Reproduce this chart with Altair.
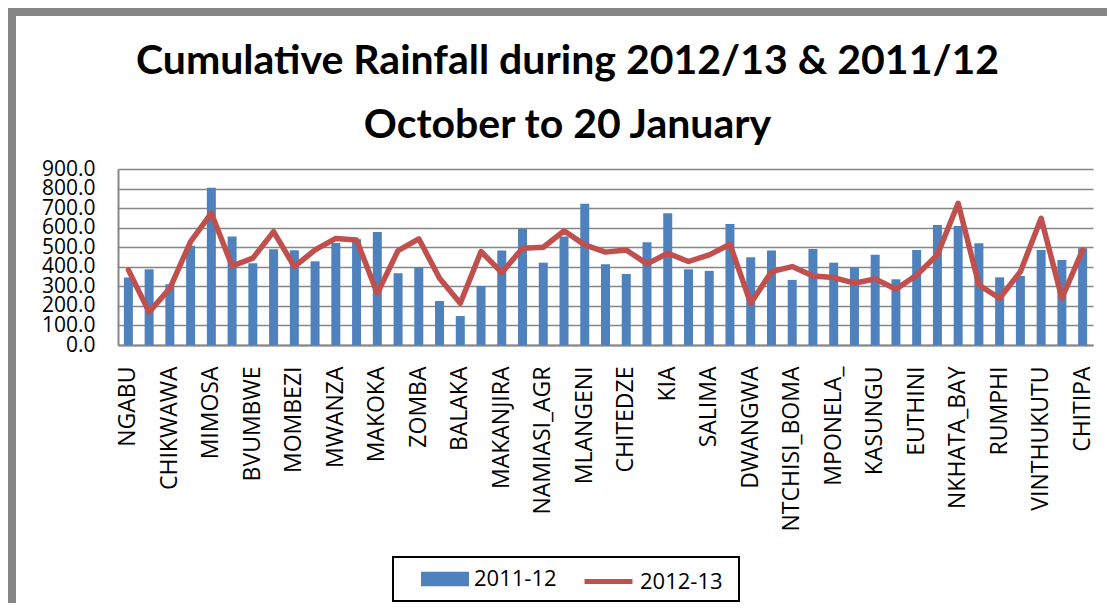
import altair as alt
import pandas as pd

stations = ["NGABU", "NSANJE", "CHIKWAWA", "THYOLO", "MIMOSA", "CHICHIRI", "BVUMBWE",
            "CHILESWA", "MOMBEZI", "NENO", "MWANZA", "CHINGALE", "MAKOKA", "CHANCO",
            "ZOMBA", "MANGOCHI", "BALAKA", "MONKEY_BAY", "MAKANJIRA", "NTCHEU",
            "NAMIASI_AGR", "DEDZA", "MLANGENI", "BUNDA", "CHITEDZE", "LILONGWE", "KIA",
            "NKHOTAKOTA", "SALIMA", "CHIPOKA", "DWANGWA", "NTCHISI", "NTCHISI_BOMA",
            "DOWA", "MPONELA_", "MCHINJI", "KASUNGU", "MZIMBA", "EUTHINI", "BOLERO",
            "NKHATA_BAY", "MZUZU", "RUMPHI", "KARONGA", "VINTHUKUTU", "MISUKU", "CHITIPA"]
labeled = stations[::2]

rain_2011_12 = [345, 387, 311, 507, 804, 555, 418, 490, 485, 428, 522, 541, 578, 367,
                398, 225, 148, 302, 483, 594, 421, 555, 722, 413, 363, 526, 674, 387,
                379, 619, 449, 483, 333, 491, 421, 396, 461, 336, 486, 613, 609, 520,
                346, 353, 486, 435, 495]
rain_2012_13 = [384, 168, 290, 529, 674, 404, 444, 580, 401, 486, 545, 537, 264, 483,
                543, 341, 213, 478, 370, 495, 500, 584, 512, 475, 486, 415, 469, 427,
                461, 515, 213, 375, 401, 353, 345, 316, 338, 285, 358, 461, 725, 307,
                239, 375, 648, 239, 486]
y_ticks = [0, 100, 200, 300, 400, 500, 600, 700, 800, 900]
series = ["2011-12", "2012-13"]
colors = ["#4F81BD", "#C0504D"]

df = pd.DataFrame({"station": stations, "a": rain_2011_12, "b": rain_2012_13,
                   "s1": series[0], "s2": series[1]})

FONT = "Open Sans"

x_axis = alt.Axis(values=labeled, labelAngle=-90, labelFontSize=23,
                  labelFont=FONT, labelColor="black", labelPadding=21,
                  ticks=False, domainColor="#868686", domainWidth=2,
                  grid=False, labelOverlap=False)
x_scale = alt.Scale(paddingInner=0.6, paddingOuter=0.3)
y_scale = alt.Scale(domain=[0, 900], nice=False)
y_axis = alt.Axis(values=y_ticks, format=".1f", labelFontSize=21,
                  labelFont=FONT, labelColor="black", ticks=False,
                  domainColor="#868686", domainWidth=2, gridColor="#868686",
                  gridWidth=1.5, labelPadding=23, labelOverlap=False,
                  labelBaseline="middle")

common_leg = dict(title=None, orient="none", direction="horizontal", padding=0,
                  labelFontSize=22, labelFont=FONT, labelColor="black",
                  symbolSize=2300, labelOffset=5)

bars = alt.Chart(df).mark_bar(size=9).encode(
    x=alt.X("station:N", sort=stations, title=None, scale=x_scale, axis=x_axis),
    y=alt.Y("a:Q", scale=y_scale, axis=y_axis, title=None),
    fill=alt.Fill("s1:N", scale=alt.Scale(domain=[series[0]], range=[colors[0]]),
                  legend=alt.Legend(legendX=303, legendY=386,
                                    symbolType="M-1,-0.3L1,-0.3L1,0.3L-1,0.3Z",
                                    symbolStrokeWidth=0, **common_leg)),
)
line = alt.Chart(df).mark_line(strokeWidth=5.5, strokeJoin="round", strokeCap="round").encode(
    x=alt.X("station:N", sort=stations, title=None, scale=x_scale, axis=x_axis),
    y=alt.Y("b:Q", scale=y_scale, axis=y_axis, title=None),
    stroke=alt.Stroke("s2:N", scale=alt.Scale(domain=[series[1]], range=[colors[1]]),
                      legend=alt.Legend(legendX=464, legendY=386, symbolType="stroke",
                                        symbolStrokeWidth=5, **common_leg)),
)
legend_box = alt.Chart(df).mark_rect(fill=None, stroke="black", strokeWidth=1.5).encode(
    x=alt.value(275), x2=alt.value(621), y=alt.value(388), y2=alt.value(432))
chart_frame = alt.Chart(df).mark_rect(fill=None, stroke="#868686", strokeWidth=8).encode(
    x=alt.value(-106), x2=alt.value(1200), y=alt.value(-157), y2=alt.value(700))

chart = alt.layer(bars, line, legend_box, chart_frame).properties(
    width=975, height=176,
    autosize=alt.AutoSizeParams(type="none"),
    padding={"left": 110, "top": 161, "right": 14, "bottom": 258},
    title=alt.TitleParams(
        text=["Cumulative Rainfall during 2012/13 & 2011/12", "October to 20 January"],
        font="Lato", fontSize=41, fontWeight="bold", color="black",
        anchor="middle", frame="group", dx=-38, offset=-139, lineHeight=64),
).configure_view(stroke=None)

chart.save("out.html", embed_options={"renderer": "svg", "actions": False})
